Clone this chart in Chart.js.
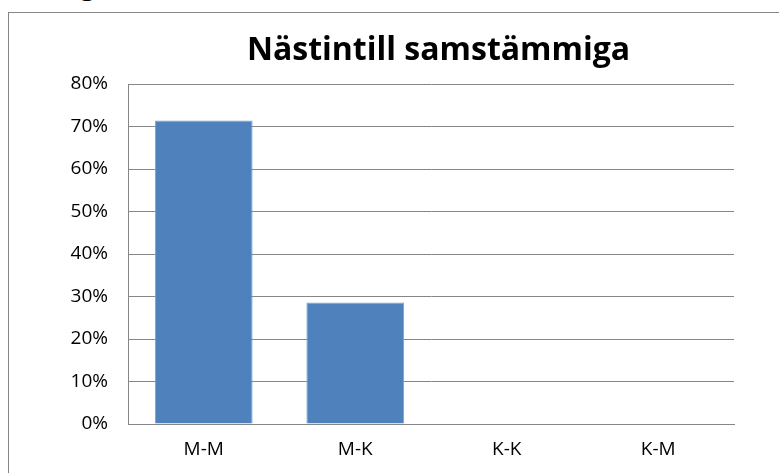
<!DOCTYPE html>
<html>
<head>
<meta charset="utf-8">
<script src="https://cdn.jsdelivr.net/npm/chart.js@4/dist/chart.umd.min.js"></script>
<style>
  html, body { margin: 0; padding: 0; background: #fff; overflow: hidden; }
  body { width: 779px; height: 473px; position: relative; }
  #prev { position: absolute; left: 80px; top: -31px; font: 28px "Open Sans", sans-serif; line-height: 28px; color: #000; }
  #box { position: absolute; left: 8px; top: 12px; width: 859px; height: 478px; border: 1px solid #868686; }
</style>
</head>
<body>
<div id="prev">g</div>
<div id="box"><canvas id="chart"></canvas></div>
<script>
const categories = ['M-M', 'M-K', 'K-K', 'K-M'];
const shares = [0.714, 0.286, 0, 0];
const tickValues = [0, 0.1, 0.2, 0.3, 0.4, 0.5, 0.6, 0.7, 0.8];
const chartTitle = 'Nästintill samstämmiga';

document.addEventListener("DOMContentLoaded", function () {
    const ctx = document.getElementById('chart').getContext('2d');

    new Chart(ctx, {
        type: 'bar',
        data: {
            labels: categories,
            datasets: [
                {
                    label: 'Andel',
                    data: shares,
                    backgroundColor: '#4F81BD',
                    borderColor: '#7DA2CF',
                    borderWidth: 1,
                    categoryPercentage: 1,
                    barPercentage: 0.645
                }
            ]
        },
        options: {
            responsive: true,
            maintainAspectRatio: false,
            animation: false,
            layout: { padding: 0 },
            plugins: {
                legend: { display: false },
                tooltip: { enabled: false },
                title: {
                    display: true,
                    text: chartTitle,
                    color: '#000',
                    font: { family: 'Open Sans', size: 32, weight: 'bold', lineHeight: 1.2 },
                    padding: { top: 19, bottom: 13.6 }
                }
            },
            scales: {
                x: {
                    grid: { display: false, drawTicks: false },
                    border: { display: true, color: '#868686', width: 1 },
                    ticks: {
                        color: '#000',
                        font: { family: 'Open Sans', size: 19 },
                        padding: 14
                    },
                    afterFit: function (scale) { scale.height = 67; }
                },
                y: {
                    min: 0,
                    max: 0.8,
                    grid: { color: '#868686', lineWidth: 1, drawTicks: false },
                    border: { display: true, color: '#868686', width: 1 },
                    afterBuildTicks: function (scale) {
                        scale.ticks = tickValues.map(v => ({ value: v }));
                    },
                    ticks: {
                        color: '#000',
                        font: { family: 'Open Sans', size: 19 },
                        padding: 20,
                        callback: function (v) { return Math.round(v * 100) + '%'; }
                    },
                    afterFit: function (scale) { scale.width = 119; }
                },
                // empty right-side space so the plot ends where the reference does
                yRight: {
                    position: 'right',
                    min: 0,
                    max: 0.8,
                    grid: { display: false, drawTicks: false },
                    border: { display: false },
                    ticks: { display: false },
                    afterFit: function (scale) { scale.width = 134; }
                }
            }
        }
    });
});
</script>
</body>
</html>
